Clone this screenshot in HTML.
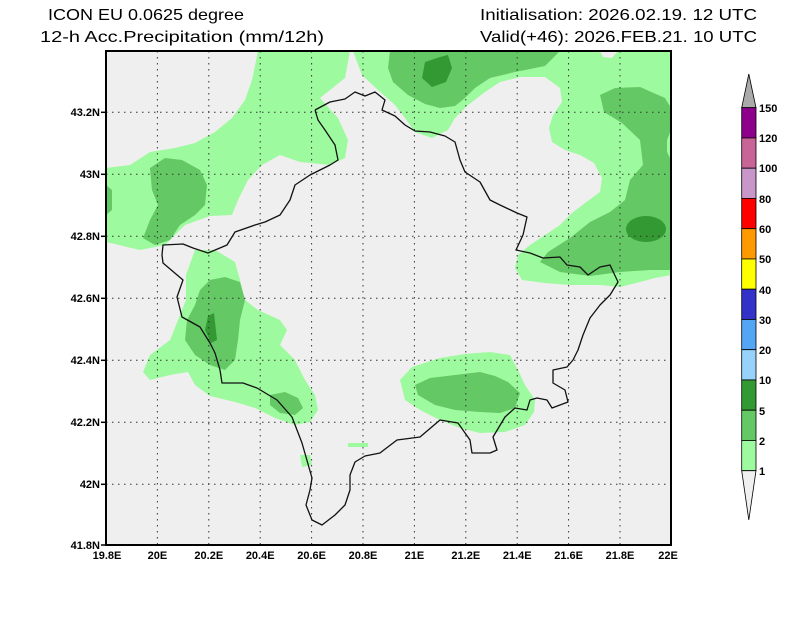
<!DOCTYPE html>
<html><head><meta charset="utf-8"><style>
html,body{margin:0;padding:0;background:#fff;}
svg{display:block;}
.t{font-family:"Liberation Sans",sans-serif;font-size:16px;fill:#000;}
.l{font-family:"Liberation Sans",sans-serif;font-size:11px;font-weight:bold;fill:#000;}
</style></head><body>
<svg width="800" height="618" viewBox="0 0 800 618" xmlns="http://www.w3.org/2000/svg">
<rect width="800" height="618" fill="#fff"/>
<text class="t" x="48" y="20" textLength="196" lengthAdjust="spacingAndGlyphs">ICON EU 0.0625 degree</text>
<text class="t" x="40" y="42" textLength="284" lengthAdjust="spacingAndGlyphs">12-h Acc.Precipitation (mm/12h)</text>
<text class="t" x="480" y="20" textLength="277" lengthAdjust="spacingAndGlyphs">Initialisation: 2026.02.19. 12 UTC</text>
<text class="t" x="480" y="42" textLength="277" lengthAdjust="spacingAndGlyphs">Valid(+46): 2026.FEB.21. 10 UTC</text>
<defs><clipPath id="c"><rect x="106" y="51" width="565" height="494"/></clipPath></defs>
<rect x="106" y="51" width="565" height="494" fill="#efefef"/>
<g clip-path="url(#c)" stroke-linejoin="round">
<!-- light green -->
<g fill="#9efa9e">
<path d="M258,51 L350,51 L345,78 L320,98 L338,118 L348,140 L345,158 L330,165 L300,162 L280,155 L262,165 L248,180 L238,200 L232,215 L210,216 L185,225 L165,245 L140,250 L106,242 L106,168 L130,165 L150,152 L175,148 L195,143 L215,132 L232,118 L245,100 L252,80 Z"/>
<path d="M195,250 L215,250 L235,262 L240,280 L245,300 L258,310 L280,320 L287,330 L280,345 L295,360 L305,380 L315,395 L318,410 L310,422 L295,425 L275,418 L255,408 L235,402 L210,396 L195,385 L188,372 L170,375 L150,380 L143,372 L150,355 L170,340 L178,320 L186,300 L186,275 Z"/>
<path d="M300,455 L310,455 L312,465 L302,467 Z"/>
<path d="M348,443 L368,443 L368,447 L348,447 Z"/>
<path d="M400,380 L412,367 L440,358 L465,354 L490,352 L510,355 L518,370 L525,385 L535,400 L534,412 L525,425 L505,432 L480,433 L460,428 L440,420 L420,410 L405,400 Z"/>
<path d="M353,51 L671,51 L671,275 L655,278 L640,282 L620,287 L600,285 L570,285 L545,283 L522,280 L515,268 L518,255 L530,245 L545,235 L560,225 L572,213 L585,203 L600,192 L602,178 L594,163 L580,155 L565,150 L552,142 L549,128 L553,115 L562,102 L560,88 L545,77 L520,77 L500,82 L485,92 L468,105 L455,118 L448,130 L432,138 L415,132 L405,118 L395,105 L378,90 L362,75 Z"/>
</g>
<path d="M600,51 L618,51 L612,58 L603,57 Z" fill="#efefef"/>
<!-- mid green -->
<g fill="#64c864">
<path d="M150,168 L165,158 L182,160 L200,170 L207,185 L205,205 L195,215 L180,225 L170,240 L155,245 L143,238 L150,220 L158,205 L152,190 Z"/>
<path d="M106,185 L112,190 L112,210 L106,215 Z"/>
<path d="M210,280 L225,277 L240,282 L245,300 L240,320 L238,340 L235,360 L225,370 L210,365 L195,355 L185,340 L187,320 L195,305 L200,290 Z"/>
<path d="M270,395 L285,392 L298,398 L303,408 L295,415 L280,413 L270,405 Z"/>
<path d="M415,385 L430,378 L455,375 L480,372 L495,376 L508,382 L520,393 L515,408 L500,413 L480,412 L455,410 L435,405 L418,395 Z"/>
<path d="M390,51 L560,51 L545,66 L515,72 L490,78 L475,88 L465,98 L455,106 L440,108 L425,104 L408,95 L393,82 L388,68 Z"/>
<path d="M600,95 L615,88 L640,87 L665,98 L671,108 L671,270 L650,270 L620,272 L590,276 L560,272 L540,262 L548,252 L570,238 L590,222 L610,212 L625,200 L630,180 L643,165 L640,140 L622,123 L604,112 Z"/>
</g>
<path d="M671,130 L667,140 L667,152 L671,160 Z" fill="#9efa9e"/>
<!-- dark green -->
<g fill="#339933">
<ellipse cx="646" cy="229" rx="20" ry="13"/>
<path d="M425,62 L440,57 L448,55 L452,68 L446,82 L432,87 L422,78 Z"/>
<path d="M208,316 L214,313 L217,340 L211,343 L205,330 Z"/>
</g>
<!-- grid -->
<g stroke="#333" stroke-width="1" stroke-dasharray="1.5 4.5">
<line x1="157.4" y1="51" x2="157.4" y2="545"/><line x1="208.8" y1="51" x2="208.8" y2="545"/><line x1="260.2" y1="51" x2="260.2" y2="545"/><line x1="311.6" y1="51" x2="311.6" y2="545"/><line x1="363" y1="51" x2="363" y2="545"/><line x1="414.4" y1="51" x2="414.4" y2="545"/><line x1="465.8" y1="51" x2="465.8" y2="545"/><line x1="517.2" y1="51" x2="517.2" y2="545"/><line x1="568.6" y1="51" x2="568.6" y2="545"/><line x1="620" y1="51" x2="620" y2="545"/>
<line x1="106" y1="112.3" x2="671" y2="112.3"/><line x1="106" y1="174.3" x2="671" y2="174.3"/><line x1="106" y1="236.3" x2="671" y2="236.3"/><line x1="106" y1="298.3" x2="671" y2="298.3"/><line x1="106" y1="360.3" x2="671" y2="360.3"/><line x1="106" y1="422.3" x2="671" y2="422.3"/><line x1="106" y1="484.3" x2="671" y2="484.3"/>
</g>
<!-- border -->
<polyline fill="none" stroke="#111" stroke-width="1.3" points="315,110 330,102 345,99 355,92 365,96 375,92 385,100 382,110 395,116 405,125 415,131 430,132 445,136 455,142 460,160 465,172 480,182 490,200 500,205 517,213 527,217 523,235 516,250 530,253 543,258 560,257 567,265 580,267 588,275 600,267 610,265 618,282 610,295 600,305 590,318 583,335 578,350 573,360 567,367 553,370 553,383 565,390 568,402 552,408 547,400 537,398 530,400 527,410 515,408 505,417 493,437 497,450 490,453 472,453 470,440 458,423 440,420 420,437 397,440 380,453 365,456 355,462 350,475 350,490 345,505 335,515 322,525 312,520 306,505 310,490 312,478 302,443 292,417 277,400 257,388 243,383 222,383 220,370 215,353 210,343 200,327 182,317 177,297 183,280 163,263 162,255 163,245 183,244 193,248 208,253 227,245 235,232 255,225 265,222 280,215 290,200 295,185 310,175 320,170 330,165 338,160 335,145 325,130 318,120 315,110"/>
</g>
<rect x="106" y="51" width="565" height="494" fill="none" stroke="#000" stroke-width="2"/>
<!-- ticks -->
<g stroke="#000" stroke-width="1.5">
<line x1="101" y1="112.3" x2="106" y2="112.3"/><line x1="101" y1="174.3" x2="106" y2="174.3"/><line x1="101" y1="236.3" x2="106" y2="236.3"/><line x1="101" y1="298.3" x2="106" y2="298.3"/><line x1="101" y1="360.3" x2="106" y2="360.3"/><line x1="101" y1="422.3" x2="106" y2="422.3"/><line x1="101" y1="484.3" x2="106" y2="484.3"/><line x1="101" y1="545" x2="106" y2="545"/>
</g>
<g class="l" text-anchor="end">
<text x="100" y="116">43.2N</text><text x="100" y="178">43N</text><text x="100" y="240">42.8N</text><text x="100" y="302">42.6N</text><text x="100" y="364">42.4N</text><text x="100" y="426">42.2N</text><text x="100" y="488">42N</text><text x="100" y="549">41.8N</text>
</g>
<g class="l" text-anchor="middle">
<text x="107" y="559">19.8E</text><text x="157.4" y="559">20E</text><text x="208.8" y="559">20.2E</text><text x="260.2" y="559">20.4E</text><text x="311.6" y="559">20.6E</text><text x="363" y="559">20.8E</text><text x="414.4" y="559">21E</text><text x="465.8" y="559">21.2E</text><text x="517.2" y="559">21.4E</text><text x="568.6" y="559">21.6E</text><text x="620" y="559">21.8E</text><text x="668" y="559">22E</text>
</g>
<!-- colorbar -->
<g stroke="#000" stroke-width="0.8">
<polygon points="748.8,74 756,107.7 741.7,107.7" fill="#aaaaaa"/>
<rect x="741.7" y="107.7" width="14.3" height="30.25" fill="#8c008c"/>
<rect x="741.7" y="137.95" width="14.3" height="30.25" fill="#c86496"/>
<rect x="741.7" y="168.2" width="14.3" height="30.25" fill="#c896c8"/>
<rect x="741.7" y="198.45" width="14.3" height="30.25" fill="#ff0000"/>
<rect x="741.7" y="228.7" width="14.3" height="30.25" fill="#ff9900"/>
<rect x="741.7" y="258.95" width="14.3" height="30.25" fill="#ffff00"/>
<rect x="741.7" y="289.2" width="14.3" height="30.25" fill="#3232c8"/>
<rect x="741.7" y="319.45" width="14.3" height="30.25" fill="#55a5f5"/>
<rect x="741.7" y="349.7" width="14.3" height="30.25" fill="#96d2fa"/>
<rect x="741.7" y="379.95" width="14.3" height="30.25" fill="#339933"/>
<rect x="741.7" y="410.2" width="14.3" height="30.25" fill="#64c864"/>
<rect x="741.7" y="440.45" width="14.3" height="30.25" fill="#9efa9e"/>
<polygon points="741.7,470.7 756,470.7 748.8,520" fill="#f0f0f0"/>
</g>
<g class="l">
<text x="759" y="112">150</text><text x="759" y="142">120</text><text x="759" y="172">100</text><text x="759" y="203">80</text><text x="759" y="233">60</text><text x="759" y="263">50</text><text x="759" y="294">40</text><text x="759" y="324">30</text><text x="759" y="354">20</text><text x="759" y="384">10</text><text x="759" y="415">5</text><text x="759" y="445">2</text><text x="759" y="475">1</text>
</g>
</svg>
</body></html>
